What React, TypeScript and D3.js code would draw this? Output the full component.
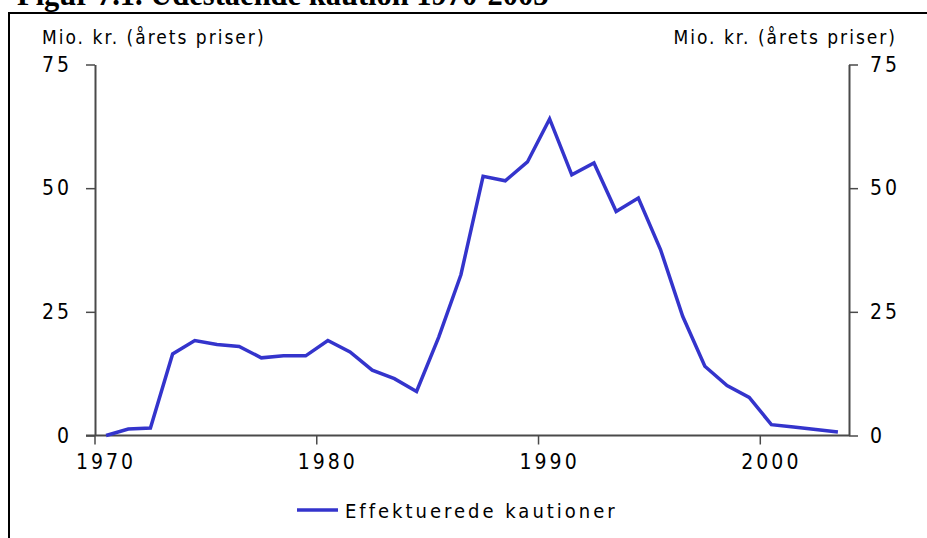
import { useEffect, useRef } from 'react';
import * as d3 from 'd3';

const years = d3.range(1970, 2004);
const values = [
  0, 1.3, 1.5, 16.5, 19.2, 18.4, 18.0, 15.7, 16.1, 16.1,
  19.2, 16.9, 13.2, 11.5, 8.9, 19.9, 32.5, 52.4, 51.5, 55.3,
  64.0, 52.7, 55.1, 45.3, 48.0, 37.6, 24.1, 14.0, 10.1, 7.7,
  2.2, 1.7, 1.2, 0.7,
];
const yTicks = [0, 25, 50, 75];
const decadeTicks = [1970, 1980, 1990, 2000];

const title = 'Figur 7.1. Udestående kaution 1970-2003';
const axisTitle = 'Mio. kr. (årets priser)';
const seriesName = 'Effektuerede kautioner';

const FONT = "'DejaVu Sans Condensed', 'DejaVu Sans', sans-serif";
const LINE_COLOR = '#3434cc';
const AXIS_COLOR = '#4a4a4a';

const App = () => {
  const ref = useRef<SVGSVGElement>(null);

  useEffect(() => {
    const svg = d3.select(ref.current);
    svg.selectAll('*').remove();

    const left = 95, right = 849, top = 64.5, bottom = 435.5;

    const x = d3.scaleBand<number>().domain(years).range([left, right]).paddingInner(0);
    const cx = (yr: number) => (x(yr) as number) + x.bandwidth() / 2;
    const y = d3.scaleLinear().domain([0, 75]).range([bottom, top]);

    // title (cut off at top in the original too) and frame
    svg.append('text').text(title)
      .attr('x', 17).attr('y', 5)
      .attr('font-family', "'Liberation Serif', 'Times New Roman', serif")
      .attr('font-weight', 'bold').attr('font-size', 30.5)
      .attr('fill', '#000');
    svg.append('rect')
      .attr('x', 9).attr('y', 13).attr('width', 1000).attr('height', 1000)
      .attr('fill', 'none').attr('stroke', '#000').attr('stroke-width', 2);

    // axis titles
    svg.append('text').text(axisTitle)
      .attr('x', 42).attr('y', 44)
      .attr('font-family', FONT).attr('font-size', 19)
      .attr('letter-spacing', 2).attr('fill', '#000');
    svg.append('text').text(axisTitle)
      .attr('x', 897).attr('y', 44).attr('text-anchor', 'end')
      .attr('font-family', FONT).attr('font-size', 19)
      .attr('letter-spacing', 2).attr('fill', '#000');

    const styleAxis = (g: any) => {
      g.select('.domain').attr('stroke', AXIS_COLOR).attr('stroke-width', 2);
      g.selectAll('.tick line').attr('stroke', AXIS_COLOR).attr('stroke-width', 1.5);
      g.selectAll('.tick text')
        .attr('font-family', FONT).attr('font-size', 21)
        .attr('letter-spacing', 3).attr('fill', '#000');
    };

    const leftAxis = svg.append('g')
      .attr('transform', `translate(${left},0)`)
      .call(d3.axisLeft(y).tickValues(yTicks).tickSize(9).tickSizeOuter(0).tickPadding(14));
    styleAxis(leftAxis);

    const rightAxis = svg.append('g')
      .attr('transform', `translate(${right},0)`)
      .call(d3.axisRight(y).tickValues(yTicks).tickSize(9).tickSizeOuter(0).tickPadding(12));
    styleAxis(rightAxis);

    // x axis: line at zero, ticks at decade boundaries, labels at category centres
    const xg = svg.append('g');
    xg.append('line')
      .attr('x1', left - 9).attr('x2', right)
      .attr('y1', y(0)).attr('y2', y(0))
      .attr('stroke', AXIS_COLOR).attr('stroke-width', 2);
    xg.selectAll('line.tick').data(decadeTicks).enter().append('line')
      .attr('class', 'tick')
      .attr('x1', d => x(d) as number).attr('x2', d => x(d) as number)
      .attr('y1', y(0)).attr('y2', y(0) + 9)
      .attr('stroke', AXIS_COLOR).attr('stroke-width', 1.5);
    xg.selectAll('text').data(decadeTicks).enter().append('text')
      .text(d => d)
      .attr('x', d => cx(d)).attr('y', y(0) + 33)
      .attr('text-anchor', 'middle')
      .attr('font-family', FONT).attr('font-size', 21)
      .attr('letter-spacing', 3).attr('fill', '#000');

    // series line
    const line = d3.line<number>()
      .x((_, i) => cx(years[i]))
      .y(d => y(d));
    svg.append('path').datum(values)
      .attr('d', line)
      .attr('fill', 'none')
      .attr('stroke', LINE_COLOR)
      .attr('stroke-width', 3.5)
      .attr('stroke-linejoin', 'miter');

    // legend
    svg.append('line')
      .attr('x1', 297).attr('x2', 338).attr('y1', 510).attr('y2', 510)
      .attr('stroke', LINE_COLOR).attr('stroke-width', 3.5);
    svg.append('text').text(seriesName)
      .attr('x', 345).attr('y', 518)
      .attr('font-family', FONT).attr('font-size', 20)
      .attr('letter-spacing', 3).attr('fill', '#000');
  }, []);

  return (
    <div>
      <svg ref={ref} width={927} height={538}
        style={{ position: 'absolute', left: 0, top: 0, background: '#fff' }} />
    </div>
  );
};

export default App;
